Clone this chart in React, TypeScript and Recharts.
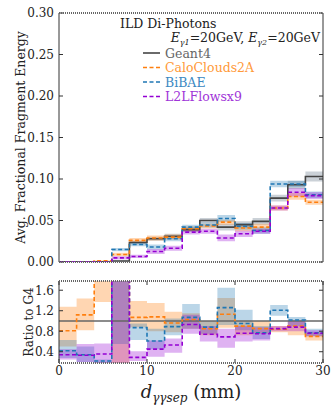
import React from 'react';
import { ComposedChart, Line, Area, XAxis, YAxis, ReferenceLine } from 'recharts';

// bin edges in mm (15 bins of 2 mm)
const binEdges = [0, 2, 4, 6, 8, 10, 12, 14, 16, 18, 20, 22, 24, 26, 28, 30];

// average fractional fragment energy per bin
const g4Vals = [0.0002, 0.0002, 0.0003, 0.0012, 0.0235, 0.028, 0.031, 0.039, 0.05, 0.042, 0.045, 0.049, 0.077, 0.093, 0.103];
const g4Err = [0.0003, 0.0003, 0.0003, 0.0008, 0.002, 0.0025, 0.003, 0.003, 0.003, 0.004, 0.004, 0.004, 0.004, 0.005, 0.006];
const ccVals = [0.0002, 0.0003, 0.0013, 0.009, 0.026, 0.029, 0.03, 0.04, 0.0435, 0.048, 0.041, 0.042, 0.065, 0.079, 0.072];
const ccErr = [0.0003, 0.0003, 0.0005, 0.002, 0.003, 0.003, 0.003, 0.003, 0.003, 0.003, 0.004, 0.004, 0.003, 0.004, 0.003];
const bbVals = [0.0001, 0.0001, 0.0001, 0.015, 0.021, 0.018, 0.028, 0.042, 0.0445, 0.0525, 0.043, 0.038, 0.094, 0.094, 0.081];
const bbErr = [0.0001, 0.0001, 0.0001, 0.002, 0.002, 0.003, 0.003, 0.003, 0.003, 0.004, 0.004, 0.004, 0.004, 0.004, 0.004];
const l2lVals = [0.0001, 0.0001, 0.0001, 0.005, 0.0067, 0.0126, 0.0165, 0.036, 0.037, 0.029, 0.034, 0.037, 0.065, 0.084, 0.08];
const l2lErr = [0.0001, 0.0001, 0.0001, 0.002, 0.002, 0.003, 0.003, 0.003, 0.003, 0.004, 0.004, 0.003, 0.003, 0.005, 0.004];

// ratio to Geant4, with band edges
const ccRatio = [0.81, 1.12, 2.5, 5.0, 1.07, 1.08, 0.96, 1.03, 0.85, 1.13, 0.9, 0.85, 0.84, 0.9, 0.7];
const ccRatioLo = [0.5, 0.82, 1.37, 0.0, 0.88, 0.8, 0.78, 0.85, 0.72, 0.87, 0.72, 0.75, 0.78, 0.72, 0.62];
const ccRatioHi = [1.28, 1.44, 3.0, 12, 1.39, 1.35, 1.18, 1.15, 1.0, 1.45, 1.0, 1.0, 0.9, 1.02, 0.78];
const bbRatio = [0.42, 0.34, 0.22, 10, 0.87, 0.61, 0.89, 1.07, 0.88, 1.26, 0.95, 0.77, 1.21, 1.02, 0.77];
const bbRatioLo = [0.28, 0.2, 0.1, 0.55, 0.63, 0.45, 0.72, 0.85, 0.75, 0.92, 0.82, 0.65, 1.1, 0.9, 0.7];
const bbRatioHi = [0.63, 0.5, 0.25, 12, 0.95, 0.85, 1.05, 1.33, 1.0, 1.65, 1.22, 0.9, 1.31, 1.08, 0.85];
const l2lRatio = [0.34, 0.33, 0.355, 4, 0.29, 0.45, 0.53, 0.93, 0.74, 0.69, 0.76, 0.75, 0.85, 0.88, 0.76];
const l2lRatioLo = [0.25, 0.2, 0.17, 0, 0.22, 0.3, 0.38, 0.75, 0.6, 0.48, 0.6, 0.62, 0.8, 0.8, 0.7];
const l2lRatioHi = [0.45, 0.55, 0.56, 12, 0.41, 0.62, 0.66, 1.12, 0.9, 0.85, 0.9, 0.88, 0.9, 1.0, 0.82];

const topTicks = [0, 0.05, 0.1, 0.15, 0.2, 0.25, 0.3];
const ratioTicks = [0.4, 0.8, 1.2, 1.6];
const xTicks = [0, 10, 20, 30];

const SERIF = '"DejaVu Serif", serif';
const GREY = '#444444';
const ORANGE = '#ff7f0e';
const BLUE = '#1f77b4';
const PURPLE = '#9400d3';
const DASH = '4 2.5';

// plot edges shared by both panels
const PL = 59;
const PR = 323;

const topRows = binEdges.map((x, i) => {
  const k = Math.min(i, g4Vals.length - 1);
  const band = (v: number[], e: number[]) => [Math.max(0, v[k] - e[k]), v[k] + e[k]];
  return {
    x,
    g4: g4Vals[k], g4Band: band(g4Vals, g4Err),
    cc: ccVals[k], ccBand: band(ccVals, ccErr),
    bb: bbVals[k], bbBand: band(bbVals, bbErr),
    l2l: l2lVals[k], l2lBand: band(l2lVals, l2lErr),
  };
});

const ratioRows = binEdges.map((x, i) => {
  const k = Math.min(i, ccRatio.length - 1);
  return {
    x,
    cc: ccRatio[k], ccBand: [ccRatioLo[k], ccRatioHi[k]],
    bb: bbRatio[k], bbBand: [bbRatioLo[k], bbRatioHi[k]],
    l2l: l2lRatio[k], l2lBand: [l2lRatioLo[k], l2lRatioHi[k]],
  };
});

const makeYTick = (fmt: (v: number) => string, gap: number) => (props: any) => {
  const { y, payload } = props;
  return (
    <g>
      <line x1={PL} x2={PL + 4} y1={y} y2={y} stroke="#333" />
      <line x1={PR - 4} x2={PR} y1={y} y2={y} stroke="#333" />
      <text x={PL - gap} y={y} dy="0.36em" textAnchor="end" fontSize={12} fontFamily={SERIF} fill="#222">
        {fmt(payload.value)}
      </text>
    </g>
  );
};

const makeXTick = (top: number, bottom: number, label: boolean) => (props: any) => {
  const { x, payload } = props;
  return (
    <g>
      <line x1={x} x2={x} y1={bottom} y2={bottom - 4} stroke="#333" />
      <line x1={x} x2={x} y1={top} y2={top + 4} stroke="#333" />
      {label && (
        <text x={x} y={bottom + 11.5} textAnchor="middle" fontSize={12} fontFamily={SERIF} fill="#222">
          {payload.value}
        </text>
      )}
    </g>
  );
};

export default function App() {
  const topYTick = makeYTick((v) => v.toFixed(2), 5);
  const ratioYTick = makeYTick((v) => v.toFixed(1), 5);
  const legend = [
    { name: 'Geant4', color: GREY, text: '#666666', dash: undefined },
    { name: 'CaloClouds2A', color: ORANGE, text: '#ff9a3a', dash: DASH },
    { name: 'BiBAE', color: BLUE, text: '#3b88c2', dash: DASH },
    { name: 'L2LFlowsx9', color: PURPLE, text: '#a035d8', dash: DASH },
  ];
  const legendY = [53, 67.5, 82, 96.5];
  return (
    <div style={{ position: 'absolute', left: 0, top: 0, width: 332, height: 405, background: '#fff' }}>
      <div style={{ position: 'absolute', left: 0, top: 0 }}>
        <ComposedChart width={332} height={275} data={topRows} margin={{ top: 13, right: 9, bottom: 13, left: 0 }}>
          <XAxis dataKey="x" type="number" domain={[0, 30]} ticks={xTicks} interval={0} height={0} axisLine={false} tickLine={false} tick={makeXTick(13, 262, false)} />
          <YAxis type="number" domain={[0, 0.3]} ticks={topTicks} interval={0} width={59} axisLine={false} tickLine={false} tick={topYTick} allowDataOverflow />
          <Area type="stepAfter" dataKey="g4Band" stroke="none" fill="#6b7b8b" fillOpacity={0.35} isAnimationActive={false} />
          <Area type="stepAfter" dataKey="ccBand" stroke="none" fill={ORANGE} fillOpacity={0.32} isAnimationActive={false} />
          <Area type="stepAfter" dataKey="bbBand" stroke="none" fill={BLUE} fillOpacity={0.3} isAnimationActive={false} />
          <Area type="stepAfter" dataKey="l2lBand" stroke="none" fill={PURPLE} fillOpacity={0.3} isAnimationActive={false} />
          <Line type="stepAfter" dataKey="g4" stroke={GREY} strokeWidth={1.6} dot={false} isAnimationActive={false} />
          <Line type="stepAfter" dataKey="cc" stroke={ORANGE} strokeWidth={1.6} strokeDasharray={DASH} dot={false} isAnimationActive={false} />
          <Line type="stepAfter" dataKey="bb" stroke={BLUE} strokeWidth={1.6} strokeDasharray={DASH} dot={false} isAnimationActive={false} />
          <Line type="stepAfter" dataKey="l2l" stroke={PURPLE} strokeWidth={1.6} strokeDasharray={DASH} dot={false} isAnimationActive={false} />
        </ComposedChart>
      </div>
      <div style={{ position: 'absolute', left: 0, top: 270 }}>
        <ComposedChart width={332} height={135} data={ratioRows} margin={{ top: 11, right: 9, bottom: 22, left: 0 }}>
          <XAxis dataKey="x" type="number" domain={[0, 30]} ticks={xTicks} interval={0} height={20} axisLine={false} tickLine={false} tick={makeXTick(11, 93, true)} />
          <YAxis type="number" domain={[0.18, 1.78]} ticks={ratioTicks} interval={0} width={59} axisLine={false} tickLine={false} tick={ratioYTick} allowDataOverflow />
          <Area type="stepAfter" dataKey="ccBand" stroke="none" fill={ORANGE} fillOpacity={0.32} isAnimationActive={false} />
          <Area type="stepAfter" dataKey="bbBand" stroke="none" fill={BLUE} fillOpacity={0.3} isAnimationActive={false} />
          <Area type="stepAfter" dataKey="l2lBand" stroke="none" fill={PURPLE} fillOpacity={0.3} isAnimationActive={false} />
          <ReferenceLine y={1} stroke="#666" strokeWidth={1.6} />
          <Line type="stepAfter" dataKey="cc" stroke={ORANGE} strokeWidth={1.6} strokeDasharray={DASH} dot={false} isAnimationActive={false} />
          <Line type="stepAfter" dataKey="bb" stroke={BLUE} strokeWidth={1.6} strokeDasharray={DASH} dot={false} isAnimationActive={false} />
          <Line type="stepAfter" dataKey="l2l" stroke={PURPLE} strokeWidth={1.6} strokeDasharray={DASH} dot={false} isAnimationActive={false} />
        </ComposedChart>
      </div>
      <svg width={332} height={405} style={{ position: 'absolute', left: 0, top: 0, pointerEvents: 'none' }} fontFamily={SERIF}>
        {[[13, 262], [281, 363]].map(([t, b]) => (
          <g key={t}>
            <line x1={PL} x2={PL} y1={t} y2={b} stroke="#333" strokeWidth={1} />
            <line x1={PR} x2={PR} y1={t} y2={b} stroke="#333" strokeWidth={1} />
            <line x1={PL} x2={PR} y1={t} y2={t} stroke="#666" strokeWidth={2} strokeDasharray="1 1" />
            <line x1={PL} x2={PR} y1={b} y2={b} stroke="#666" strokeWidth={2} strokeDasharray="1 1" />
          </g>
        ))}
        <text transform="translate(25,137.5) rotate(-90)" textAnchor="middle" fontSize={12.5} fill="#222">
          Avg. Fractional Fragment Energy
        </text>
        <text transform="translate(33,322) rotate(-90)" textAnchor="middle" fontSize={12} fill="#222">
          Ratio to G4
        </text>
        <text x={191} y={398} textAnchor="middle" fontSize={18} fill="#222">
          <tspan fontStyle="italic">d</tspan>
          <tspan fontStyle="italic" fontSize={12} dy={4}>γγsep</tspan>
          <tspan dy={-4}>{'  (mm)'}</tspan>
        </text>
        <text x={120} y={27.5} fontSize={12.5} fill="#222">ILD Di-Photons</text>
        <text x={320} y={42} textAnchor="end" fontSize={12.5} fill="#222">
          <tspan fontStyle="italic">E</tspan>
          <tspan fontStyle="italic" fontSize={8} dy={2.5}>γ1</tspan>
          <tspan dy={-2.5}>=20GeV, </tspan>
          <tspan fontStyle="italic">E</tspan>
          <tspan fontStyle="italic" fontSize={8} dy={2.5}>γ2</tspan>
          <tspan dy={-2.5}>=20GeV</tspan>
        </text>
        {legend.map((item, i) => (
          <g key={item.name}>
            <line x1={143} x2={160} y1={legendY[i]} y2={legendY[i]} stroke={item.color} strokeWidth={1.6} strokeDasharray={item.dash} />
            <text x={165} y={legendY[i] + 4.5} fontSize={12.5} fill={item.text}>{item.name}</text>
          </g>
        ))}
      </svg>
    </div>
  );
}
